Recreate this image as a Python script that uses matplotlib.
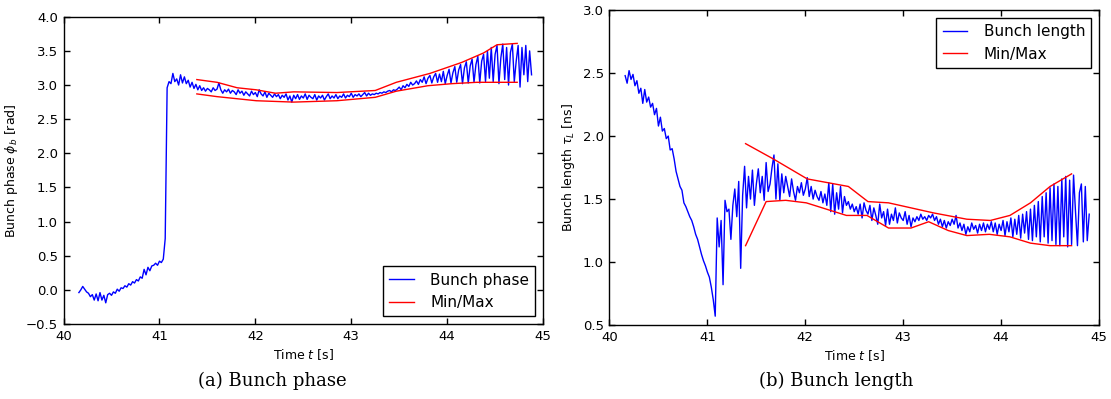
import numpy as np
import matplotlib
matplotlib.use('Agg')
import matplotlib.pyplot as plt

# bunch phase [rad], one sample every 0.02 s from 40.16 s to 44.88 s
phase = [
    -0.04, 0.00, 0.05, 0.01, -0.03, -0.05, -0.10, -0.07, -0.15, -0.06,
    -0.16, -0.04, -0.15, -0.08, -0.19, -0.07, -0.05, -0.08, -0.03, -0.05,
    0.01, -0.02, 0.03, 0.02, 0.06, 0.04, 0.09, 0.07, 0.12, 0.10,
    0.15, 0.13, 0.19, 0.17, 0.30, 0.22, 0.33, 0.28, 0.35, 0.36,
    0.39, 0.36, 0.42, 0.40, 0.45, 0.75,
    2.96, 3.05, 3.02, 3.17, 3.05, 3.09, 3.00, 3.15, 3.03, 3.12,
    3.02, 3.07, 2.97, 3.04, 2.95, 3.01, 2.93, 2.99, 2.92, 2.96,
    2.91, 2.95, 2.93, 2.90, 2.96, 2.92, 2.94, 3.03, 2.93, 2.88,
    2.93, 2.90, 2.94, 2.88, 2.92, 2.90, 2.86, 2.93, 2.88, 2.91,
    2.85, 2.90, 2.87, 2.84, 2.91, 2.86, 2.89, 2.83, 2.93, 2.87,
    2.84, 2.90, 2.82, 2.88, 2.85, 2.82, 2.87, 2.83, 2.86, 2.80,
    2.85, 2.82, 2.87, 2.78, 2.84, 2.75, 2.85, 2.80, 2.86, 2.79,
    2.84, 2.81, 2.87, 2.79, 2.85, 2.82, 2.80, 2.86, 2.78, 2.84,
    2.81, 2.85, 2.78, 2.83, 2.87, 2.80, 2.84, 2.81, 2.86, 2.80,
    2.84, 2.82, 2.87, 2.81, 2.85, 2.83, 2.88, 2.82, 2.86, 2.84,
    2.87, 2.83, 2.86, 2.89, 2.84, 2.88, 2.85, 2.87, 2.86, 2.88,
    2.87, 2.89, 2.88, 2.90, 2.89, 2.91, 2.92, 2.90, 2.93, 2.92,
    2.94, 2.97, 2.93, 2.99, 2.96, 3.01, 2.98, 3.04, 3.00, 3.02,
    3.06, 3.01, 3.08, 3.04, 3.12, 3.02, 3.10, 3.14, 3.03, 3.12,
    3.17, 3.04, 3.16, 3.05, 3.20, 3.02, 3.14, 3.23, 3.03, 3.18,
    3.27, 3.04, 3.22, 3.30, 3.02, 3.25, 3.34, 3.03, 3.28, 3.38,
    3.04, 3.30, 3.42, 3.03, 3.35, 3.45, 3.05, 3.50, 3.10, 3.55,
    3.05, 3.45, 3.58, 3.02, 3.40, 3.60, 3.08, 3.55, 3.00, 3.48,
    3.60, 3.05, 3.35, 3.58, 2.97, 3.55, 3.15, 3.58, 3.05, 3.50,
    3.15,
]

# min/max envelope of the phase
phase_max_t = [41.39, 41.60, 41.81, 42.01, 42.21, 42.40, 42.85, 43.25,
               43.47, 43.82, 44.15, 44.38, 44.52, 44.73]
phase_max = [3.08, 3.04, 2.96, 2.93, 2.88, 2.90, 2.89, 2.92,
             3.04, 3.17, 3.33, 3.47, 3.59, 3.61]
phase_min_t = [41.39, 41.60, 42.01, 42.40, 42.85, 43.25, 43.47, 43.80,
               44.05, 44.31, 44.73]
phase_min = [2.87, 2.83, 2.77, 2.75, 2.77, 2.82, 2.91, 2.99,
             3.02, 3.04, 3.04]

# bunch length [ns], one sample every 0.02 s from 40.16 s to 44.90 s
length = [
    2.48, 2.42, 2.52, 2.45, 2.49, 2.40, 2.44, 2.34, 2.38, 2.26,
    2.37, 2.27, 2.31, 2.23, 2.26, 2.17, 2.22, 2.08, 2.15, 2.04,
    2.06, 1.98, 2.00, 1.89, 1.90, 1.82, 1.72, 1.66, 1.60, 1.57,
    1.47, 1.44, 1.40, 1.36, 1.33, 1.28, 1.22, 1.18, 1.12, 1.06,
    1.01, 0.97, 0.92, 0.88, 0.80, 0.70, 0.57, 1.35, 1.12, 1.33,
    0.82, 1.49, 1.40, 1.42, 1.18, 1.45, 1.58, 1.36, 1.64, 0.95,
    1.53, 1.76, 1.43, 1.68, 1.50, 1.73, 1.45, 1.62, 1.74, 1.55,
    1.68, 1.49, 1.79, 1.56, 1.62, 1.75, 1.85, 1.50, 1.78, 1.49,
    1.70, 1.55, 1.68, 1.60, 1.52, 1.66, 1.56, 1.49, 1.60, 1.55,
    1.63, 1.53, 1.58, 1.67, 1.52, 1.60, 1.50, 1.57, 1.52, 1.49,
    1.56, 1.47, 1.54, 1.45, 1.63, 1.40, 1.62, 1.38, 1.55, 1.42,
    1.60, 1.39, 1.52, 1.45, 1.48, 1.42, 1.46, 1.40, 1.44, 1.38,
    1.46, 1.35, 1.47, 1.41, 1.38, 1.45, 1.33, 1.43, 1.37, 1.30,
    1.46, 1.35, 1.40, 1.29, 1.42, 1.30, 1.38, 1.33, 1.43, 1.31,
    1.39, 1.35, 1.33, 1.40, 1.30, 1.37, 1.28, 1.35, 1.32, 1.36,
    1.33, 1.38, 1.34, 1.36, 1.33, 1.37, 1.35, 1.38, 1.33, 1.36,
    1.30, 1.34, 1.28, 1.33, 1.27, 1.32, 1.29, 1.34, 1.30, 1.37,
    1.27, 1.31, 1.25, 1.30, 1.22, 1.28, 1.24, 1.31, 1.26, 1.29,
    1.23, 1.30, 1.25, 1.31, 1.24, 1.30, 1.26, 1.32, 1.24, 1.31,
    1.22, 1.30, 1.25, 1.33, 1.21, 1.32, 1.24, 1.35, 1.20, 1.34,
    1.22, 1.37, 1.19, 1.38, 1.23, 1.40, 1.18, 1.42, 1.17, 1.45,
    1.20, 1.48, 1.16, 1.52, 1.20, 1.55, 1.15, 1.59, 1.17, 1.62,
    1.14, 1.60, 1.13, 1.66, 1.20, 1.68, 1.12, 1.65, 1.14, 1.69,
    1.40, 1.13, 1.55, 1.62, 1.16, 1.60, 1.17, 1.38,
]

# min/max envelope of the bunch length
length_max_t = [41.39, 41.67, 42.02, 42.44, 42.64, 42.85, 43.31, 43.65,
                43.89, 44.09, 44.30, 44.50, 44.72]
length_max = [1.94, 1.82, 1.66, 1.60, 1.48, 1.47, 1.39, 1.34,
              1.33, 1.37, 1.47, 1.60, 1.70]
length_min_t = [41.39, 41.60, 41.80, 42.01, 42.42, 42.63, 42.85, 43.08,
                43.26, 43.46, 43.65, 43.88, 44.09, 44.30, 44.50, 44.72]
length_min = [1.13, 1.48, 1.49, 1.47, 1.37, 1.37, 1.27, 1.27,
              1.32, 1.25, 1.21, 1.22, 1.20, 1.15, 1.13, 1.13]

t_phase = np.linspace(40.16, 44.88, len(phase))
t_length = np.linspace(40.16, 44.90, len(length))

fig = plt.figure(figsize=(11.11, 3.99), dpi=100)
ax1 = fig.add_axes([0.0572, 0.188, 0.4316, 0.770])
ax2 = fig.add_axes([0.5486, 0.1855, 0.4406, 0.789])


def style_axes(ax):
    ax.tick_params(direction='in', top=True, right=True, length=4,
                   width=1, labelsize=9.5, pad=4)
    for s in ax.spines.values():
        s.set_linewidth(1.0)
    ax.set_xlim(40, 45)
    ax.set_xlabel('Time $t$ [s]', fontsize=9, labelpad=3)


# (a) bunch phase
ax1.plot(t_phase, phase, color='b', lw=1.0, label='Bunch phase')
ax1.plot(phase_max_t, phase_max, color='r', lw=1.0, label='Min/Max')
ax1.plot(phase_min_t, phase_min, color='r', lw=1.0)
style_axes(ax1)
ax1.set_ylim(-0.5, 4.0)
ax1.set_ylabel(r'Bunch phase $\phi_b$ [rad]', fontsize=9, labelpad=4)
leg1 = ax1.legend(loc='lower right', fontsize=11, fancybox=False,
                  framealpha=1, edgecolor='k', handlelength=1.6,
                  handletextpad=1.1, borderaxespad=0.5)
leg1.get_frame().set_linewidth(1.0)

# (b) bunch length
ax2.plot(t_length, length, color='b', lw=1.0, label='Bunch length')
ax2.plot(length_max_t, length_max, color='r', lw=1.0, label='Min/Max')
ax2.plot(length_min_t, length_min, color='r', lw=1.0)
style_axes(ax2)
ax2.set_ylim(0.5, 3.0)
ax2.set_ylabel(r'Bunch length $\tau_L$ [ns]', fontsize=9, labelpad=4)
leg2 = ax2.legend(loc='upper right', fontsize=11, fancybox=False,
                  framealpha=1, edgecolor='k', handlelength=1.6,
                  handletextpad=1.1, borderaxespad=0.5)
leg2.get_frame().set_linewidth(1.0)

fig.text(0.245, 0.045, '(a) Bunch phase', ha='center', va='center',
         fontsize=13, family='DejaVu Serif')
fig.text(0.7525, 0.045, '(b) Bunch length', ha='center', va='center',
         fontsize=13, family='DejaVu Serif')

fig.savefig('out.png', dpi=100)
